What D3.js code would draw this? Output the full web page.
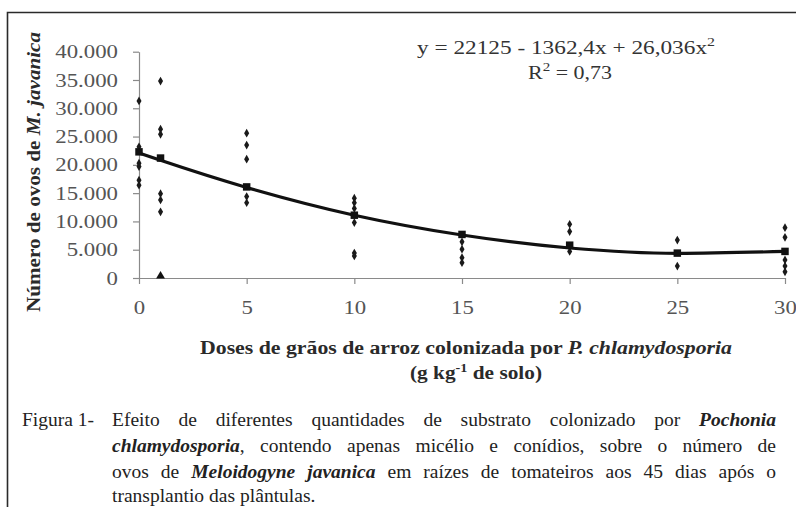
<!DOCTYPE html>
<html>
<head>
<meta charset="utf-8">
<script src="https://cdn.jsdelivr.net/npm/d3@7"></script>
<style>
  body { margin: 0; background: #fff; }
  svg text { font-family: "Liberation Serif", "Times New Roman", serif; }
</style>
</head>
<body>
<svg id="chart" width="796" height="507"></svg>
<script>
var obsDose = [0, 0, 0, 0, 0, 0,
               1, 1, 1, 1, 1, 1,
               5, 5, 5, 5, 5,
               10, 10, 10, 10, 10, 10,
               15, 15, 15, 15,
               20, 20, 20,
               25, 25,
               30, 30, 30, 30, 30];
var obsEggs = [31300, 23200, 20300, 19700, 17300, 16400,
               34800, 26300, 25400, 14900, 13800, 11700,
               25600, 23500, 21000, 14400, 13300,
               14100, 13300, 12300, 9800, 4400, 3900,
               6400, 5100, 3600, 2700,
               9500, 8200, 4700,
               6700, 2100,
               8900, 7200, 3200, 2100, 1100];
// zero-count pot at dose 1 (triangle marker)
var zeroDose = [1];
var zeroEggs = [0];

// treatment means
var doses = [0, 1, 5, 10, 15, 20, 25, 30];
var meanEggs = [22300, 21200, 16100, 11100, 7700, 5800, 4400, 4700];
// fitted curve, read at each dose
var trendEggs = [22100, 20800, 16000, 11100, 7600, 5300, 4350, 4700];

var xTicks = [0, 5, 10, 15, 20, 25, 30];
var yTicks = [0, 5000, 10000, 15000, 20000, 25000, 30000, 35000, 40000];

var svg = d3.select("#chart");

// the scanned figure is a bit wider than tall, so stretch text horizontally
function stretch(sel, k) {
    sel.each(function () {
        var w = this.getComputedTextLength();
        d3.select(this).attr("textLength", w * k).attr("lengthAdjust", "spacingAndGlyphs");
    });
}
function fitTo(sel, w) {
    sel.attr("textLength", w).attr("lengthAdjust", "spacingAndGlyphs");
}

// frame
svg.append("path")
    .attr("d", "M7.5,507 V12.5 H796")
    .attr("fill", "none")
    .attr("stroke", "#2a2a2a")
    .attr("stroke-width", 1.6);

var x = d3.scaleLinear().domain([0, 30]).range([139, 785]);
var y = d3.scaleLinear().domain([0, 40000]).range([278, 51.7]);

var fmt = function (d) { return d3.format(",")(d).replace(/,/g, "."); };

// y axis
var gy = svg.append("g").attr("transform", "translate(" + x(0) + ",0)")
    .call(d3.axisLeft(y).tickValues(yTicks).tickSize(6).tickSizeOuter(0).tickFormat(fmt).tickPadding(15));
// x axis
var gx = svg.append("g").attr("transform", "translate(0," + y(0) + ")")
    .call(d3.axisBottom(x).tickValues(xTicks).tickSize(6).tickSizeOuter(0).tickPadding(17));

[gx, gy].forEach(function (g) {
    g.attr("font-family", null);
    g.select(".domain").attr("stroke", "#8a8a8a").attr("stroke-width", 1.2);
    g.selectAll(".tick line").attr("stroke", "#8a8a8a").attr("stroke-width", 1.2);
    g.selectAll(".tick text")
        .attr("fill", "#555")
        .style("font-size", "19px")
        .style("font-family", "'Liberation Serif', serif");
    stretch(g.selectAll(".tick text"), 1.2);
});

// observations
svg.append("g").selectAll("path")
    .data(obsDose)
    .enter()
    .append("path")
    .attr("transform", function (d, i) { return "translate(" + x(d) + "," + y(obsEggs[i]) + ")"; })
    .attr("d", d3.symbol().type(d3.symbolDiamond).size(22))
    .attr("fill", "#1a1a1a");

svg.append("g").selectAll("path")
    .data(zeroDose)
    .enter()
    .append("path")
    .attr("transform", function (d, i) { return "translate(" + x(d) + "," + (y(zeroEggs[i]) - 2) + ")"; })
    .attr("d", d3.symbol().type(d3.symbolTriangle).size(34))
    .attr("fill", "#111");

// fitted curve
var line = d3.line()
    .x(function (d, i) { return x(d); })
    .y(function (d, i) { return y(trendEggs[i]); })
    .curve(d3.curveMonotoneX);

svg.append("path")
    .datum(doses)
    .attr("d", line)
    .attr("fill", "none")
    .attr("stroke", "#111")
    .attr("stroke-width", 3.2);

// means
svg.append("g").selectAll("path")
    .data(doses)
    .enter()
    .append("path")
    .attr("transform", function (d, i) { return "translate(" + x(d) + "," + y(meanEggs[i]) + ")"; })
    .attr("d", d3.symbol().type(d3.symbolSquare).size(56))
    .attr("fill", "#111");

// equation
var eq = svg.append("text").attr("x", 417).attr("y", 54)
    .attr("fill", "#333").style("font-size", "19px");
eq.append("tspan").text("y = 22125 - 1362,4x + 26,036x");
eq.append("tspan").attr("dy", -8).style("font-size", "13px").text("2");
fitTo(eq, 298);

var r2 = svg.append("text").attr("x", 528).attr("y", 79)
    .attr("fill", "#333").style("font-size", "19px");
r2.append("tspan").text("R");
r2.append("tspan").attr("dy", -8).style("font-size", "13px").text("2");
r2.append("tspan").attr("dy", 8).text(" = 0,73");
fitTo(r2, 84);

// y axis title
var yt = svg.append("text")
    .attr("transform", "translate(40,172) rotate(-90)")
    .attr("text-anchor", "middle")
    .attr("fill", "#2a2a2a")
    .style("font-size", "18px")
    .style("font-weight", "bold");
yt.append("tspan").text("Número de ovos de ");
yt.append("tspan").style("font-style", "italic").text("M. javanica");
fitTo(yt, 280);

// x axis title
var xt = svg.append("text").attr("x", 466).attr("y", 354)
    .attr("text-anchor", "middle").attr("fill", "#2a2a2a")
    .style("font-size", "18px").style("font-weight", "bold");
xt.append("tspan").text("Doses de grãos de arroz colonizada por ");
xt.append("tspan").style("font-style", "italic").text("P. chlamydosporia");
fitTo(xt, 532);

var xt2 = svg.append("text").attr("x", 476).attr("y", 379)
    .attr("text-anchor", "middle").attr("fill", "#2a2a2a")
    .style("font-size", "18px").style("font-weight", "bold");
xt2.append("tspan").text("(g kg");
xt2.append("tspan").attr("dy", -7).style("font-size", "12px").text("-1");
xt2.append("tspan").attr("dy", 7).text(" de solo)");
fitTo(xt2, 132);

// caption, justified word by word
var capLines = [
    { y: 426, just: true, segs: [["Efeito de diferentes quantidades de substrato colonizado por", 0], ["Pochonia", 1]] },
    { y: 452, just: true, segs: [["chlamydosporia", 1], [", contendo apenas micélio e conídios, sobre o número de", 0]] },
    { y: 478, just: true, segs: [["ovos de", 0], ["Meloidogyne javanica", 1], ["em raízes de tomateiros aos 45 dias após o", 0]] },
    { y: 502, just: false, segs: [["transplantio das plântulas.", 0]] }
];
var capLeft = 112, capRight = 776;

svg.append("text").attr("x", 22).attr("y", 426).attr("fill", "#222")
    .style("font-size", "19.5px").text("Figura 1-");

capLines.forEach(function (ln) {
    // build word list; punctuation glued to preceding word
    var words = [];
    ln.segs.forEach(function (s) {
        var parts = s[0].split(" ").filter(function (p) { return p.length; });
        parts.forEach(function (p, k) {
            if (k === 0 && /^[,.]/.test(p) && words.length) {
                words[words.length - 1].parts.push([p, s[1]]);
            } else {
                words.push({ parts: [[p, s[1]]] });
            }
        });
    });
    var nodes = words.map(function (w) {
        var t = svg.append("text").attr("y", ln.y).attr("fill", "#222").style("font-size", "19.5px");
        w.parts.forEach(function (p) {
            var ts = t.append("tspan").text(p[0]);
            if (p[1]) ts.style("font-weight", "bold").style("font-style", "italic");
        });
        return t;
    });
    var widths = nodes.map(function (t) { return t.node().getComputedTextLength(); });
    var total = d3.sum(widths);
    var gap = ln.just ? (capRight - capLeft - total) / (nodes.length - 1) : 5;
    var cx = capLeft;
    nodes.forEach(function (t, i) {
        t.attr("x", cx);
        cx += widths[i] + gap;
    });
});
</script>
</body>
</html>
